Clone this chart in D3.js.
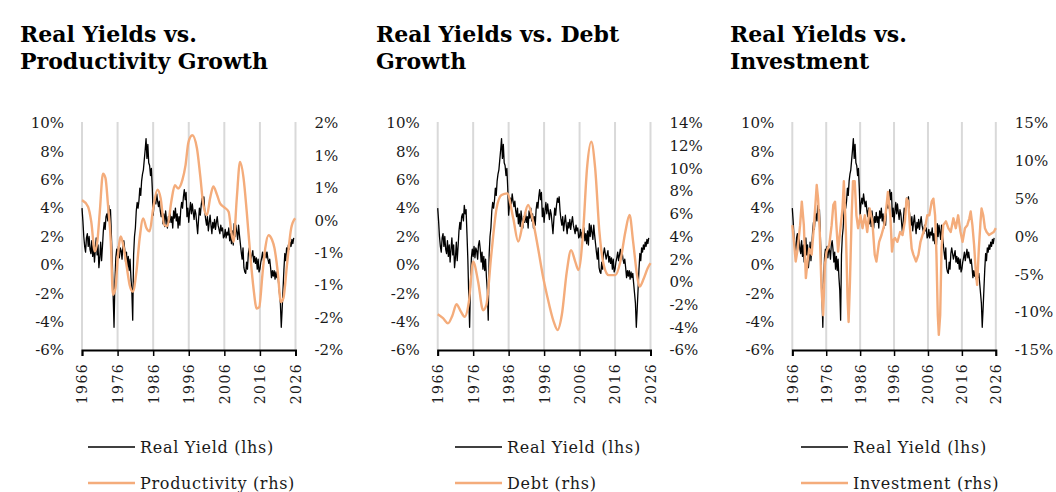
<!DOCTYPE html>
<html>
<head>
<meta charset="utf-8">
<script src="https://cdn.jsdelivr.net/npm/d3@7"></script>
<style>
  body { margin: 0; background: #fff; }
  svg { display: block; font-family: "DejaVu Serif", serif; }
</style>
</head>
<body>
<svg id="chart" width="1056" height="492"></svg>
<script>
// Real yield (lhs), quarterly from 1966 Q1
const realYieldStart = 1966;
const realYieldStep = 0.25;
const realYield = [
  4.0, 3.1, 2.0, 1.3,   0.9, 1.9, 2.2, 1.3,   2.0, 1.1, 0.8, 1.7,   0.6, 1.4, 0.2, 1.1,
  1.9, 0.7, 1.4, -0.2,  0.5, 1.6, 0.3, 1.3,   2.4, 3.0, 2.5, 3.4,   3.6, 3.1, 4.2, 3.6,
  3.9, 2.2, 0.4, -2.1,  -4.4, -1.2, 0.5, 1.1, 0.6, 1.3, 0.5, 1.2,   1.0, 0.4, 1.4, 1.7,
  1.1, 0.2, 0.9, -0.3,  0.6, -0.4, 0.4, -0.9, -1.8, -3.9, 0.7, 2.0, 2.6, 3.8, 4.4, 4.0,
  4.5, 5.4, 4.9, 5.9,   6.4, 6.7, 7.4, 8.1,   8.9, 7.5, 8.5, 7.2,   7.0, 6.3, 6.8, 5.4,
  3.5, 4.3, 4.7, 4.3,   5.0, 4.5, 4.1, 4.5,   3.8, 3.4, 4.0, 2.9,   3.6, 2.7, 3.8, 3.2,
  2.6, 3.4, 3.0, 3.7,   3.0, 3.4, 2.6, 3.8,   3.3, 4.0, 3.1, 3.6,   2.6, 3.4, 2.8, 3.9,
  4.4, 4.0, 4.8, 5.3,   4.6, 5.1, 3.4, 4.0,   3.0, 3.8, 4.4, 3.6,   4.3, 3.7, 3.2, 3.9,
  3.6, 2.9, 2.2, 3.2,   4.0, 3.5, 4.2, 4.7,   4.4, 4.8, 3.8, 3.2,   2.8, 3.4, 2.4, 3.0,
  3.5, 2.8, 2.2, 3.0,   2.6, 3.2, 2.5, 3.0,   3.4, 2.8, 2.5, 2.2,   2.8, 2.4, 2.6, 1.9,
  2.0, 2.5, 1.9, 2.3,   2.1, 2.6, 1.7, 2.2,   1.5, 2.4, 1.4, 2.9,   2.0, 2.8, 2.3, 1.8,
  2.8, 2.1, 1.5, 0.9,   0.4, 1.2, -0.2, -0.5, -0.6, 0.2, -0.3, 0.8, 1.2, 0.8, 0.4, 0.7,
  1.0, 0.2, 0.6, 0.1,   0.5, -0.3, 0.4, -0.5, -0.3, 0.2, 0.5, 0.9,  0.3, 0.7, 1.1, 0.5,
  0.9, 0.4, 0.1, 0.4,   -0.2, -0.9, -0.4, -0.8, -0.4, -1.0, -0.5, -0.9,
  -0.6, -1.3, -2.0, -2.7, -4.4, -3.1, -1.7, -0.3, 0.8, 0.3, 1.2, 0.9,
  1.4, 1.1, 1.6, 1.3,   1.8, 1.5, 1.9
];

// Productivity growth (rhs)
const prodYears = [1966, 1967.7, 1968.6, 1969.6, 1970.3, 1971, 1971.9, 1972.6, 1973.3, 1974.1,
  1974.7, 1975.4, 1976.1, 1976.9, 1977.5, 1978.5, 1979.4, 1980.3, 1981.3, 1982.2,
  1983.2, 1984.1, 1985, 1986, 1987.2, 1988.1, 1989.1, 1990, 1991.1, 1992.1,
  1993, 1994.2, 1995.1, 1995.9, 1997, 1998.3, 1999.2, 2000.1, 2001.1, 2002,
  2002.9, 2003.9, 2004.8, 2006, 2007.2, 2008.1, 2008.6, 2009.5, 2010.4, 2011.4,
  2012.3, 2013.3, 2014.2, 2015.1, 2015.8, 2016.7, 2017.5, 2018.4, 2019.4, 2020.1,
  2021, 2021.9, 2022.6, 2023.6, 2024.8, 2025.9];
const prodValues = [0.31, 0.21, -0.02, -0.48, -0.33, 0.13, 0.72, 0.65, 0.24, -0.33,
  -1.15, -1.05, -0.54, -0.25, -0.36, -0.69, -1.0, -1.1, -0.79, -0.28,
  0.03, -0.12, -0.17, 0.18, 0.47, 0.34, -0.07, -0.09, 0.29, 0.54,
  0.49, 0.62, 0.85, 1.2, 1.31, 1.11, 0.7, 0.24, 0.08, 0.34,
  0.52, 0.4, 0.26, 0.2, 0.13, -0.23, -0.33, 0.34, 0.9, 0.65,
  0.13, -0.54, -1.05, -1.36, -1.34, -0.84, -0.43, -0.23, -0.3, -0.43,
  -0.79, -1.26, -1.2, -0.69, -0.12, 0.03];

// Debt growth (rhs)
const debtYears = [1966, 1967.5, 1968.9, 1970.1, 1971.3, 1972.5, 1973.6, 1974.8, 1976, 1977.4,
  1978.8, 1979.7, 1981.1, 1982.6, 1984, 1985.6, 1987.3, 1988.7, 1990.1, 1991.5,
  1992.9, 1994.3, 1995.8, 1996.8, 1998.7, 1999.8, 2001, 2002.4, 2003.6, 2004.8,
  2005.7, 2007, 2008.1, 2009.3, 2010.4, 2011.6, 2012.8, 2014.2, 2016.1, 2017.5,
  2018.9, 2020.1, 2021.1, 2022.2, 2022.9, 2024.1, 2025.2, 2026];
const debtValues = [-2.86, -3.2, -3.65, -3.0, -1.97, -2.6, -3.07, -1.75, 1.78, 0.02,
  -2.5, -2.05, 2.37, 6.48, 7.65, 7.8, 5.6, 3.55, 5.3, 6.78,
  5.3, 2.96, 0.3, -1.15, -3.5, -4.24, -2.9, 0.9, 2.8, 1.77,
  1.05, 4.4, 10, 12.35, 10, 4.4, 1.5, 0.6, 0.6, 1.8,
  4.4, 5.9, 3.55, 0.6, -0.42, 0.3, 1.2, 1.65];

// Investment (rhs)
const invYears = [1966, 1966.5, 1967, 1967.6, 1968.3, 1968.8, 1969.4, 1970, 1970.5, 1971,
  1971.7, 1972.4, 1973.2, 1973.6, 1974.1, 1974.6, 1975.1, 1975.6, 1976.1, 1976.9,
  1977.6, 1978.1, 1978.6, 1979, 1979.5, 1980.2, 1980.8, 1981.2, 1981.8, 1982.3,
  1982.6, 1983, 1983.5, 1983.9, 1984.4, 1984.9, 1985.4, 1986.1, 1986.7, 1987.4,
  1988.1, 1988.8, 1989.6, 1990.3, 1990.8, 1991.6, 1992.3, 1993.1, 1993.7, 1994.2,
  1994.9, 1995.4, 1995.9, 1996.3, 1997, 1997.8, 1998.5, 1999.2, 1999.7, 2000.2,
  2000.7, 2001.2, 2001.7, 2002.5, 2003.2, 2003.8, 2004.4, 2005.1, 2005.8, 2006.4,
  2007.1, 2007.6, 2008.1, 2008.5, 2008.9, 2009.2, 2009.6, 2010, 2010.5, 2011.3,
  2012, 2012.7, 2013.5, 2014.2, 2014.9, 2015.6, 2016.2, 2016.9, 2017.6, 2018.2,
  2018.6, 2019.1, 2019.6, 2020.1, 2020.5, 2021, 2021.5, 2021.8, 2022.3, 2022.8,
  2023.3, 2024, 2024.7, 2025.4, 2026];
const invValues = [1.5, -0.7, -3.3, -1.6, 1.5, 4.6, 1.5, -5.5, -3.3, -1.6,
  -2.4, 1.5, 6.8, 5.0, 0.6, -6.8, -10.4, -3.8, -2.0, -1.1,
  1.5, 4.2, 4.6, 1.5, -2.0, 1.1, 3.7, 7.3, 0.6, -8.2,
  -11.3, -6.0, 2.8, 7.3, 7.3, 2.8, 1.1, 2.8, 1.1, 2.8,
  0.6, 3.7, 2.0, -2.4, -3.3, -0.7, 0.2, 1.5, 3.7, 5.9,
  2.8, -2.0, -0.4, -0.2, -0.7, 0.6, 0.2, 2.0, 5.0, 4.6,
  1.1, -1.6, -2.4, -3.3, -2.4, -0.7, 0.2, 1.1, 2.8, 2.8,
  4.6, 5.0, 2.8, -2.4, -10.4, -13.0, -10.4, -1.6, 1.5, 2.0,
  1.1, 0.6, 2.4, 1.1, 2.8, 0.6, -0.7, 1.1, 1.5, 2.4,
  3.3, 1.5, -1.1, -4.6, -6.4, -1.6, 2.0, 3.7, 2.8, 1.1,
  0.6, 0.2, 0.4, 0.6, 1.1];

const leftTicks = [-6, -4, -2, 0, 2, 4, 6, 8, 10];
const yearTicks = [1966, 1976, 1986, 1996, 2006, 2016, 2026];
const prodTicks = [-2, -1.5, -1, -0.5, 0, 0.5, 1, 1.5];
const debtTicks = [-6, -4, -2, 0, 2, 4, 6, 8, 10, 12, 14];
const invTicks = [-15, -10, -5, 0, 5, 10, 15];

const ORANGE = "#F4AC7B";
const TEXT = "#1a1a1a";
const plotTop = 123, plotBottom = 350;

// Excel-style "0%" rounding (half away from zero)
const pctFmt = (v) => {
  const r = Math.sign(v) * Math.round(Math.abs(v));
  return (r === 0 ? 0 : r) + "%";
};

const panels = [
  { title: ["Real Yields vs.", "Productivity Growth"], tx: 20, x0: 82, x1: 295.5,
    rDomain: [-2, 1.5], rTicks: prodTicks, years: prodYears, values: prodValues,
    label: "Productivity (rhs)", legendX: 88, curve: d3.curveMonotoneX },
  { title: ["Real Yields vs. Debt", "Growth"], tx: 376, x0: 437.7, x1: 650.5,
    rDomain: [-6, 14], rTicks: debtTicks, years: debtYears, values: debtValues,
    label: "Debt (rhs)", legendX: 455, curve: d3.curveMonotoneX },
  { title: ["Real Yields vs.", "Investment"], tx: 730, x0: 792.3, x1: 995.8,
    rDomain: [-15, 15], rTicks: invTicks, years: invYears, values: invValues,
    label: "Investment (rhs)", legendX: 801, curve: d3.curveLinear }
];

const svg = d3.select("#chart");

const ryPoints = realYield.map((v, i) => ({ t: realYieldStart + i * realYieldStep, v }));

panels.forEach((p) => {
  const g = svg.append("g");

  // Title
  const title = g.append("text")
    .attr("x", p.tx)
    .attr("y", 42)
    .attr("fill", "#000")
    .style("font-family", "'DejaVu Serif', serif")
    .style("font-weight", "bold")
    .style("font-size", "22px");
  p.title.forEach((line, i) => {
    title.append("tspan").attr("x", p.tx).attr("dy", i === 0 ? 0 : 27).text(line);
  });

  const x = d3.scaleLinear().domain([1966, 2026]).range([p.x0, p.x1]);
  const yL = d3.scaleLinear().domain([-6, 10]).range([plotBottom, plotTop]);
  const yR = d3.scaleLinear().domain(p.rDomain).range([plotBottom, plotTop]);

  // Vertical gridlines
  g.append("g")
    .selectAll("line")
    .data(yearTicks)
    .enter()
    .append("line")
    .attr("x1", (d) => x(d))
    .attr("x2", (d) => x(d))
    .attr("y1", plotTop - 1)
    .attr("y2", plotBottom)
    .attr("stroke", "#d9d9d9")
    .attr("stroke-width", 2);

  // Left axis
  const axL = g.append("g")
    .attr("transform", `translate(${p.x0},0)`)
    .call(d3.axisLeft(yL).tickValues(leftTicks).tickSize(0).tickPadding(18).tickFormat((d) => d + "%"));
  axL.select(".domain").remove();
  axL.selectAll("text").attr("fill", TEXT).style("font-size", "15px").style("font-family", "'DejaVu Serif', serif");

  // Right axis
  const axR = g.append("g")
    .attr("transform", `translate(${p.x1},0)`)
    .call(d3.axisRight(yR).tickValues(p.rTicks).tickSize(0).tickPadding(19).tickFormat(pctFmt));
  axR.select(".domain").remove();
  axR.selectAll("text").attr("fill", TEXT).style("font-size", "15px").style("font-family", "'DejaVu Serif', serif");

  // Lines
  const ryLine = d3.line().x((d) => x(d.t)).y((d) => yL(d.v));
  g.append("path")
    .datum(ryPoints)
    .attr("d", ryLine)
    .attr("fill", "none")
    .attr("stroke", "#000")
    .attr("stroke-width", 1.3)
    .attr("stroke-linejoin", "round");

  const rhsPoints = p.years.map((t, i) => ({ t, v: p.values[i] }));
  const rhsLine = d3.line().curve(p.curve).x((d) => x(d.t)).y((d) => yR(d.v));
  g.append("path")
    .datum(rhsPoints)
    .attr("d", rhsLine)
    .attr("fill", "none")
    .attr("stroke", ORANGE)
    .attr("stroke-width", 2.4)
    .attr("stroke-linejoin", "round");

  // Bottom axis
  const axB = g.append("g")
    .attr("transform", `translate(0,${plotBottom})`)
    .call(d3.axisBottom(x).tickValues(yearTicks).tickSize(6).tickFormat(d3.format("d")));
  axB.select(".domain").attr("stroke", "#000").attr("stroke-width", 2);
  axB.selectAll(".tick line").attr("stroke", "#000").attr("stroke-width", 1.5);
  axB.selectAll("text")
    .attr("transform", "rotate(-90)")
    .attr("x", -13)
    .attr("y", 0)
    .attr("dy", "0.35em")
    .attr("fill", TEXT)
    .style("text-anchor", "end")
    .style("font-size", "14px")
    .style("letter-spacing", "1.4px")
    .style("font-family", "'DejaVu Serif', serif");

  // Legend
  const legend = [
    { label: "Real Yield (lhs)", color: "#000", w: 1.3, y: 447 },
    { label: p.label, color: ORANGE, w: 2.4, y: 483 }
  ];
  const lg = g.append("g");
  legend.forEach((d) => {
    lg.append("line")
      .attr("x1", p.legendX).attr("x2", p.legendX + 47)
      .attr("y1", d.y).attr("y2", d.y)
      .attr("stroke", d.color).attr("stroke-width", d.w);
    lg.append("text")
      .attr("x", p.legendX + 52).attr("y", d.y)
      .attr("dy", "0.35em")
      .attr("fill", TEXT)
      .style("font-size", "16px")
      .style("letter-spacing", "0.7px")
      .text(d.label);
  });
});
</script>
</body>
</html>
